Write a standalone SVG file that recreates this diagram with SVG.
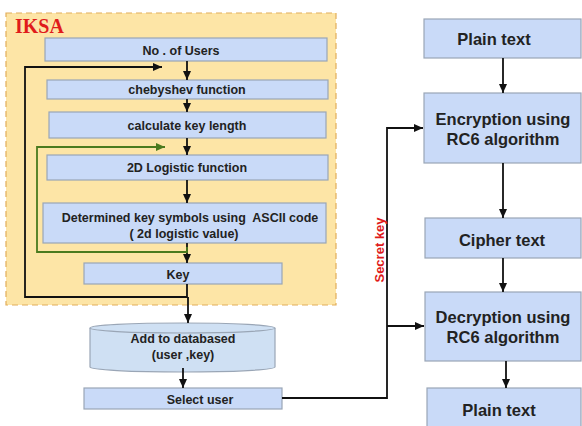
<svg xmlns="http://www.w3.org/2000/svg" width="582" height="426" viewBox="0 0 582 426">
<style>
.box{fill:#c9daf8;stroke:#9aa6b6;stroke-width:1.2}
.t{font-family:"Liberation Sans",Arial,sans-serif;font-weight:bold;font-size:12.5px;fill:#222;text-anchor:middle;white-space:pre}
.tl{font-family:"Liberation Sans",Arial,sans-serif;font-weight:bold;font-size:16.5px;fill:#222;text-anchor:middle}
.ln{fill:none;stroke:#111;stroke-width:1.8}
.gl{fill:none;stroke:#4a7a1e;stroke-width:1.8}
</style>
<defs>
<marker id="ab" markerWidth="10" markerHeight="10" refX="9" refY="5" orient="auto" markerUnits="userSpaceOnUse"><path d="M0,1 L9,5 L0,9 Z" fill="#111"/></marker>
<marker id="ag" markerWidth="10" markerHeight="10" refX="9" refY="5" orient="auto" markerUnits="userSpaceOnUse"><path d="M0,1 L9,5 L0,9 Z" fill="#4a7a1e"/></marker>
</defs>
<rect width="582" height="426" fill="#fff"/>
<g id="iksa">
<rect x="6" y="13" width="330" height="292" fill="#fde5a6" stroke="#e2ad5a" stroke-width="1.2" stroke-dasharray="6,4"/>
<text x="15" y="33" font-family="'Liberation Serif','Times New Roman',serif" font-weight="bold" font-size="20" fill="#e01b1b">IKSA</text>
</g>
<g id="n_users"><rect class="box" x="45" y="38" width="282" height="23"/><text class="t" x="181" y="55">No . of Users</text></g>
<g id="n_cheb"><rect class="box" x="47" y="80" width="281" height="19"/><text class="t" x="187" y="94">chebyshev function</text></g>
<g id="n_len"><rect class="box" x="49" y="112" width="277" height="26"/><text class="t" x="187" y="130">calculate key length</text></g>
<g id="n_2d"><rect class="box" x="47" y="155" width="281" height="25"/><text class="t" x="187" y="172">2D Logistic function</text></g>
<g id="n_det"><rect class="box" x="43" y="203" width="283" height="40"/><text class="t" x="190" y="222" xml:space="preserve">Determined key symbols using  ASCII code</text><text class="t" x="184" y="238">( 2d logistic value)</text></g>
<g id="n_key"><rect class="box" x="84" y="263" width="198" height="21"/><text class="t" x="178" y="279">Key</text></g>
<g id="n_db">
<path d="M90,328 L90,367 A92.5,5 0 0 0 275,367 L275,328" fill="#cfe0f3" stroke="#9aa6b6" stroke-width="1.2"/>
<ellipse cx="182.5" cy="328" rx="92.5" ry="5" fill="#cfe0f3" stroke="#9aa6b6" stroke-width="1.2"/>
<text class="t" x="183" y="343">Add to databased</text><text class="t" x="183" y="359">(user ,key)</text>
</g>
<g id="n_sel"><rect class="box" x="84" y="388" width="198" height="21"/><text class="t" x="200" y="404">Select user</text></g>
<g id="n_plain1"><rect class="box" x="424" y="19" width="157" height="39"/><text class="tl" x="494" y="45">Plain text</text></g>
<g id="n_enc"><rect class="box" x="424" y="93" width="157" height="70"/><text class="tl" x="503" y="125">Encryption using</text><text class="tl" x="503" y="145">RC6 algorithm</text></g>
<g id="n_ciph"><rect class="box" x="425" y="218" width="156" height="40"/><text class="tl" x="502" y="246">Cipher text</text></g>
<g id="n_dec"><rect class="box" x="425" y="292" width="156" height="69"/><text class="tl" x="503" y="323">Decryption using</text><text class="tl" x="503" y="343">RC6 algorithm</text></g>
<g id="n_plain2"><rect class="box" x="427" y="388" width="154" height="44"/><text class="tl" x="499" y="416">Plain text</text></g>
<g id="connectors">
<line class="ln" x1="187" y1="61" x2="187" y2="80" marker-end="url(#ab)"/>
<line class="ln" x1="187" y1="99" x2="187" y2="112" marker-end="url(#ab)"/>
<line class="ln" x1="187" y1="138" x2="187" y2="155" marker-end="url(#ab)"/>
<line class="ln" x1="187" y1="180" x2="187" y2="203" marker-end="url(#ab)"/>
<line class="ln" x1="187" y1="243" x2="187" y2="263" marker-end="url(#ab)"/>
<polyline class="ln" points="187,284 187,297 25,297 25,67 162,67" marker-end="url(#ab)"/>
<line class="ln" x1="188" y1="297" x2="188" y2="323" marker-end="url(#ab)"/>
<polyline class="gl" points="187,247 187,252 37,252 37,147 165,147" marker-end="url(#ag)"/>
<line class="ln" x1="183" y1="368" x2="183" y2="388" marker-end="url(#ab)"/>
<polyline class="ln" points="282,398 387,398 387,128 423,128" marker-end="url(#ab)"/>
<line class="ln" x1="387" y1="326" x2="424" y2="326" marker-end="url(#ab)"/>
<line class="ln" x1="503" y1="58" x2="503" y2="93" marker-end="url(#ab)"/>
<line class="ln" x1="503" y1="163" x2="503" y2="218" marker-end="url(#ab)"/>
<line class="ln" x1="503" y1="258" x2="503" y2="292" marker-end="url(#ab)"/>
<line class="ln" x1="506" y1="361" x2="506" y2="388" marker-end="url(#ab)"/>
<text x="0" y="0" transform="translate(384,250) rotate(-90)" font-family="'Liberation Sans',Arial,sans-serif" font-weight="bold" font-size="13" fill="#e01b1b" text-anchor="middle">Secret key</text>
</g>
</svg>
